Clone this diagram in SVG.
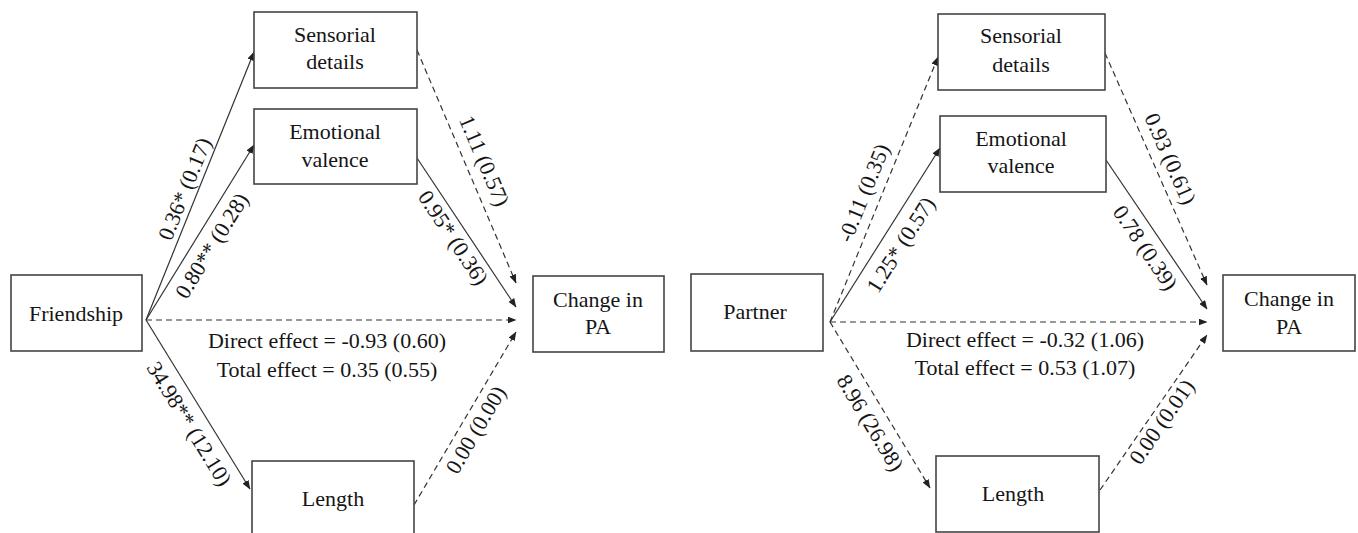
<svg xmlns="http://www.w3.org/2000/svg" width="1358" height="533" viewBox="0 0 1358 533" font-family="'Liberation Serif', 'Times New Roman', 'DejaVu Serif', serif">
<defs>
<marker id="ah" markerWidth="9" markerHeight="7" refX="8.5" refY="3.5" orient="auto" markerUnits="userSpaceOnUse">
<path d="M0,0 L9,3.5 L0,7 z" fill="#222"/>
</marker>
<style>
.box{fill:#fff;stroke:#444;stroke-width:1.6}
.t{font-family:'Liberation Serif','Times New Roman','DejaVu Serif',serif;font-size:22px;fill:#151515;text-anchor:middle}
.s{fill:none;stroke:#333;stroke-width:1.2;marker-end:url(#ah)}
.d{fill:none;stroke:#333;stroke-width:1.2;stroke-dasharray:6 4;marker-end:url(#ah)}
</style>
</defs>
<rect width="1358" height="533" fill="#fff"/>

<g id="connectors">
<path class="s" d="M146,320 L254,52"/>
<path class="s" d="M146,320 L254,145"/>
<path class="d" d="M146,320 L516,320"/>
<path class="s" d="M146,320 L250,489"/>
<path class="d" d="M417,50 L516,283"/>
<path class="s" d="M417,158 L516,307"/>
<path class="d" d="M414,505 L516,332"/>
<path class="d" d="M830,322 L938,57"/>
<path class="s" d="M830,322 L940,148"/>
<path class="d" d="M830,322 L1207,322"/>
<path class="d" d="M830,322 L930,488"/>
<path class="d" d="M1105,53 L1207,285"/>
<path class="s" d="M1106,160 L1207,309"/>
<path class="d" d="M1100,490 L1207,335"/>
</g>

<g id="edge-labels" font-family="'Liberation Serif', serif">
<text class="t" transform="translate(185,189) rotate(-68)" y="7">0.36* (0.17)</text>
<text class="t" transform="translate(212,246) rotate(-58.3)" y="7">0.80** (0.28)</text>
<text class="t" transform="translate(453,238) rotate(56.4)" y="7">0.95* (0.36)</text>
<text class="t" transform="translate(484,161) rotate(67)" y="7">1.11 (0.57)</text>
<text class="t" transform="translate(189,424) rotate(58.4)" y="7">34.98** (12.10)</text>
<text class="t" transform="translate(476,430) rotate(-59.5)" y="7">0.00 (0.00)</text>
<text class="t" x="327" y="348">Direct effect = -0.93 (0.60)</text>
<text class="t" x="327" y="377">Total effect = 0.35 (0.55)</text>
<text class="t" transform="translate(864,193) rotate(-67.8)" y="7">-0.11 (0.35)</text>
<text class="t" transform="translate(901,245) rotate(-57.7)" y="7">1.25* (0.57)</text>
<text class="t" transform="translate(1145,248) rotate(55.9)" y="7">0.78 (0.39)</text>
<text class="t" transform="translate(1170,159) rotate(66.3)" y="7">0.93 (0.61)</text>
<text class="t" transform="translate(870,423) rotate(58.9)" y="7">8.96 (26.98)</text>
<text class="t" transform="translate(1162,422) rotate(-55.4)" y="7">0.00 (0.01)</text>
<text class="t" x="1025" y="347">Direct effect = -0.32 (1.06)</text>
<text class="t" x="1025" y="375">Total effect = 0.53 (1.07)</text>
</g>

<g id="friendship">
<rect class="box" x="11" y="275" width="131" height="76"/>
<text class="t" x="76" y="321">Friendship</text>
</g>
<g id="left-sensorial">
<rect class="box" x="254" y="12" width="163" height="76"/>
<text class="t" x="335" y="42">Sensorial</text>
<text class="t" x="335" y="69">details</text>
</g>
<g id="left-emotional">
<rect class="box" x="254" y="109" width="163" height="75"/>
<text class="t" x="335" y="139">Emotional</text>
<text class="t" x="335" y="167">valence</text>
</g>
<g id="left-length">
<rect class="box" x="252" y="461" width="162" height="80"/>
<text class="t" x="333" y="506">Length</text>
</g>
<g id="left-change">
<rect class="box" x="533" y="276" width="131" height="76"/>
<text class="t" x="598" y="307">Change in</text>
<text class="t" x="598" y="334">PA</text>
</g>
<g id="partner">
<rect class="box" x="691" y="274" width="132" height="77"/>
<text class="t" x="755" y="319">Partner</text>
</g>
<g id="right-sensorial">
<rect class="box" x="938" y="14" width="167" height="76"/>
<text class="t" x="1021" y="43">Sensorial</text>
<text class="t" x="1021" y="72">details</text>
</g>
<g id="right-emotional">
<rect class="box" x="940" y="116" width="166" height="76"/>
<text class="t" x="1021" y="146">Emotional</text>
<text class="t" x="1021" y="173">valence</text>
</g>
<g id="right-length">
<rect class="box" x="936" y="456" width="163" height="76"/>
<text class="t" x="1013" y="501">Length</text>
</g>
<g id="right-change">
<rect class="box" x="1223" y="275" width="132" height="76"/>
<text class="t" x="1289" y="306">Change in</text>
<text class="t" x="1289" y="334">PA</text>
</g>
</svg>
